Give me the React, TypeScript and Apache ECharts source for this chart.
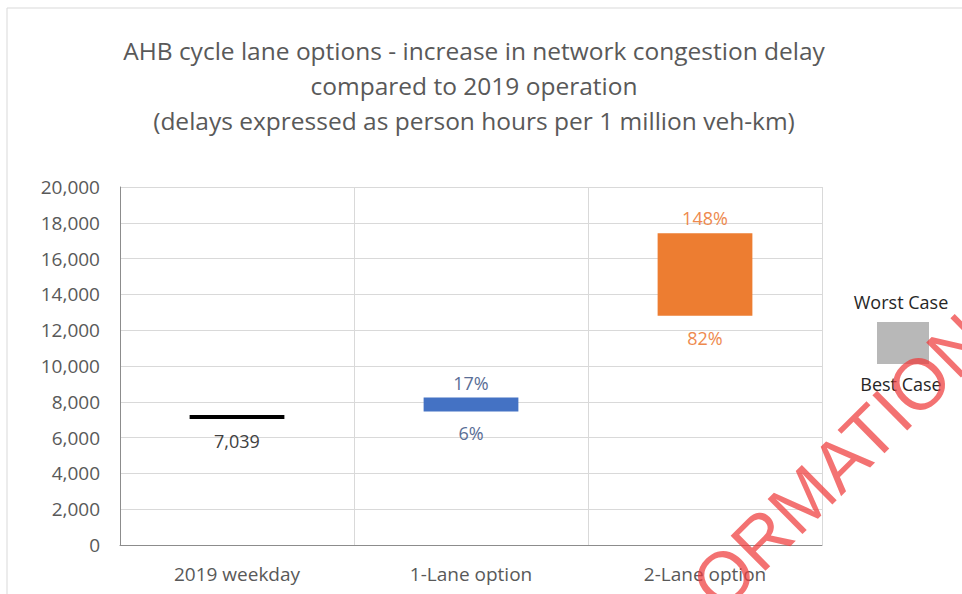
import React, { useEffect, useRef } from "react";
import * as echarts from "echarts";

const titleLines = [
  "AHB cycle lane options - increase in network congestion delay",
  "compared to 2019 operation",
  "(delays expressed as person hours per 1 million veh-km)",
];
const categories = ["2019 weekday", "1-Lane option", "2-Lane option"];
const bestCase = [7039, 7461, 12811];
const worstCase = [7039, 8236, 17417];
const bestLabels = ["7,039", "6%", "82%"];
const worstLabels = ["", "17%", "148%"];
const barColors = ["#000000", "#4472C4", "#ED7D31"];
const labelColors = ["#404040", "#5A6E96", "#EE8A4E"];
const yMin = 0;
const yMax = 20000;
const yInterval = 2000;
const legendTop = "Worst Case";
const legendBottom = "Best Case";
const watermark = "ORMATION";

const FONT = "'Open Sans', 'Noto Sans', sans-serif";

export default function App() {
  const ref = useRef<HTMLDivElement>(null);
  useEffect(() => {
    document.body.style.margin = "0";
    if (!ref.current) return;
    const chart = echarts.init(ref.current, null, { renderer: "svg" });
    const data = categories.map((_, i) => [i, bestCase[i], worstCase[i]]);
    chart.setOption({
      animation: false,
      backgroundColor: "#ffffff",
      title: {
        text: titleLines.join("\n"),
        left: 469,
        top: 28,
        textAlign: "center",
        textStyle: {
          fontFamily: FONT,
          fontSize: 24.5,
          fontWeight: "normal",
          color: "#595959",
          lineHeight: 35,
        },
      },
      grid: { left: 120, right: 140, top: 187, bottom: 49, containLabel: false },
      xAxis: {
        type: "category",
        data: categories,
        boundaryGap: true,
        axisLine: { show: true, lineStyle: { color: "#8c8c8c", width: 1 } },
        axisTick: { show: false },
        axisLabel: { fontFamily: FONT, fontSize: 19, color: "#595959", margin: 19 },
        splitLine: { show: true, lineStyle: { color: "#d9d9d9", width: 1 } },
      },
      yAxis: {
        type: "value",
        min: yMin,
        max: yMax,
        interval: yInterval,
        axisLine: { show: true, lineStyle: { color: "#8c8c8c", width: 1 } },
        axisTick: { show: false },
        axisLabel: {
          fontFamily: FONT,
          fontSize: 19,
          color: "#595959",
          margin: 20,
          formatter: (v: number) => v.toLocaleString("en-US"),
        },
        splitLine: { show: true, lineStyle: { color: "#d9d9d9", width: 1 } },
      },
      series: [
        {
          type: "custom",
          data,
          encode: { x: 0, y: [1, 2] },
          renderItem: (params: any, api: any) => {
            const i = api.value(0);
            const lo = api.coord([i, api.value(1)]);
            const hi = api.coord([i, api.value(2)]);
            const w = api.size([1, 0])[0] * 0.405;
            const bottom = lo[1];
            let top = hi[1];
            if (bottom - top < 4) top = bottom - 4;
            const children: any[] = [
              {
                type: "rect",
                shape: { x: lo[0] - w / 2, y: top, width: w, height: bottom - top },
                style: { fill: barColors[i] },
              },
              {
                type: "text",
                style: {
                  text: bestLabels[i],
                  x: lo[0],
                  y: bottom + 22,
                  align: "center",
                  verticalAlign: "middle",
                  textAlign: "center",
                  textVerticalAlign: "middle",
                  fill: labelColors[i],
                  fontSize: 18,
                  fontFamily: FONT,
                },
              },
            ];
            if (worstLabels[i]) {
              children.push({
                type: "text",
                style: {
                  text: worstLabels[i],
                  x: lo[0],
                  y: top - 15,
                  align: "center",
                  verticalAlign: "middle",
                  textAlign: "center",
                  textVerticalAlign: "middle",
                  fill: labelColors[i],
                  fontSize: 18,
                  fontFamily: FONT,
                },
              });
            }
            return { type: "group", children };
          },
        },
      ],
      graphic: [
        {
          type: "rect",
          z: -10,
          silent: true,
          shape: { x: 7, y: 8, width: 960, height: 600 },
          style: { fill: "transparent", stroke: "#d9d9d9", lineWidth: 1 },
        },
        {
          type: "text",
          x: 901,
          y: 302,
          style: {
            text: legendTop,
            textAlign: "center",
            textVerticalAlign: "middle",
            fill: "#262626",
            fontSize: 18,
            fontFamily: FONT,
          },
        },
        {
          type: "rect",
          shape: { x: 877, y: 322, width: 52, height: 42 },
          style: { fill: "#b8b8b8" },
        },
        {
          type: "text",
          x: 901,
          y: 384,
          style: {
            text: legendBottom,
            textAlign: "center",
            textVerticalAlign: "middle",
            fill: "#262626",
            fontSize: 18,
            fontFamily: FONT,
          },
        },
        {
          type: "text",
          x: 840,
          y: 462,
          rotation: 0.78,
          z: 100,
          silent: true,
          style: {
            text: watermark,
            textAlign: "center",
            textVerticalAlign: "middle",
            fill: "rgba(238, 60, 60, 0.72)",
            fontSize: 72,
            fontWeight: "normal",
            fontFamily: "'Liberation Sans', Arial, sans-serif",
          },
        },
      ],
    });
    return () => chart.dispose();
  }, []);
  return <div ref={ref} style={{ width: 962, height: 594 }} />;
}
